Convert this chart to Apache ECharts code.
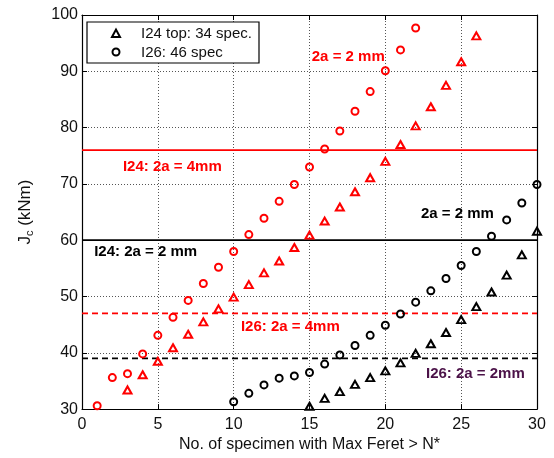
<!DOCTYPE html>
<html>
<head>
<meta charset="utf-8">
<script src="https://cdn.jsdelivr.net/npm/echarts@6/dist/echarts.min.js"></script>
<style>
  html, body { margin: 0; padding: 0; background: #fff; }
  #chart { width: 554px; height: 458px; }
</style>
</head>
<body>
<div id="chart"></div>
<script>
// Jc vs. number of specimens with Max Feret above N*
const redTriN  = [3, 4, 5, 6, 7, 8, 9, 10, 11, 12, 13, 14, 15, 16, 17, 18, 19, 20, 21, 22, 23, 24, 25, 26];
const redTriJ  = [33.4, 36.1, 38.5, 40.9, 43.3, 45.5, 47.8, 49.9, 52.1, 54.2, 56.3, 58.7, 60.9, 63.4, 65.9, 68.6, 71.1, 74.0, 77.0, 80.3, 83.7, 87.5, 91.7, 96.3];

const redCircN = [1, 2, 3, 4, 5, 6, 7, 8, 9, 10, 11, 12, 13, 14, 15, 16, 17, 18, 19, 20, 21, 22];
const redCircJ = [30.6, 35.6, 36.3, 39.8, 43.1, 46.3, 49.3, 52.3, 55.2, 58.0, 61.0, 63.9, 66.9, 69.9, 73.0, 76.2, 79.4, 82.9, 86.4, 90.1, 93.8, 97.7];

const blackTriN  = [15, 16, 17, 18, 19, 20, 21, 22, 23, 24, 25, 26, 27, 28, 29, 30];
const blackTriJ  = [30.5, 31.9, 33.1, 34.4, 35.6, 36.8, 38.2, 39.9, 41.6, 43.6, 45.9, 48.2, 50.8, 53.8, 57.4, 61.6];

const blackCircN = [10, 11, 12, 13, 14, 15, 16, 17, 18, 19, 20, 21, 22, 23, 24, 25, 26, 27, 28, 29, 30];
const blackCircJ = [31.3, 32.8, 34.3, 35.5, 35.9, 36.5, 38.0, 39.6, 41.3, 43.1, 44.9, 46.9, 49.0, 51.0, 53.2, 55.5, 58.0, 60.7, 63.6, 66.6, 69.9];

// reference levels (kNm)
const levelI24_4mm = 76;
const levelI24_2mm = 60;
const levelI26_4mm = 47;
const levelI26_2mm = 39;
const levelSpanN = [0, 30];

const legendNames = ['I24 top: 34 spec.', 'I26: 46 spec'];

// annotation texts with anchor [N, Jc] (left edge, vertical middle)
const notes = [
  { text: '2a = 2 mm',      at: [15.15, 92.6], color: '#ff0000' },
  { text: 'I24: 2a = 4mm',  at: [2.70, 73.0],  color: '#ff0000' },
  { text: 'I24: 2a = 2 mm', at: [0.80, 57.9],  color: '#000000' },
  { text: '2a = 2 mm',      at: [22.35, 64.7], color: '#000000' },
  { text: 'I26: 2a = 4mm',  at: [10.48, 44.6], color: '#ff0000' },
  { text: 'I26: 2a = 2mm',  at: [22.68, 36.2], color: '#4b1248' }
];

const FONT = "'Liberation Sans', Arial, Helvetica, sans-serif";

function pairs(xs, ys) { return xs.map((x, i) => [x, ys[i]]); }

function markerSeries(name, xs, ys, symbol, size, color) {
  return {
    name: name,
    type: 'scatter',
    xAxisIndex: 0, yAxisIndex: 0,
    data: pairs(xs, ys),
    symbol: symbol,
    symbolSize: size,
    itemStyle: { color: 'rgba(0,0,0,0)', borderColor: color, borderWidth: 2, opacity: 1 },
    emphasis: { disabled: true },
    z: 5
  };
}

function levelSeries(level, color, dashed) {
  return {
    type: 'line',
    xAxisIndex: 0, yAxisIndex: 0,
    data: levelSpanN.map(n => [n, level]),
    symbol: 'none',
    lineStyle: { color: color, width: 1.8, type: dashed ? [6, 4] : 'solid' },
    emphasis: { disabled: true },
    z: 3
  };
}

const chart = echarts.init(document.getElementById('chart'), null, { renderer: 'canvas' });

chart.setOption({
  animation: false,
  backgroundColor: '#ffffff',
  textStyle: { fontFamily: FONT },
  grid: { left: 82, right: 17, top: 15, bottom: 46, show: false },
  xAxis: [
    {
      type: 'value', position: 'bottom', min: 0, max: 30, interval: 5,
      name: 'No. of specimen with Max Feret > N*',
      nameLocation: 'middle', nameGap: 27,
      nameTextStyle: { fontFamily: FONT, fontSize: 16, color: '#111' },
      axisLine: { show: true, onZero: false, lineStyle: { color: '#000', width: 1.2 } },
      axisTick: { show: true, inside: true, length: 5, lineStyle: { color: '#000' } },
      axisLabel: { fontFamily: FONT, fontSize: 16, color: '#111', margin: 7 },
      splitLine: { show: true, lineStyle: { color: '#555', width: 1, type: [1, 2] } }
    },
    {
      type: 'value', position: 'top', min: 0, max: 30, interval: 5,
      axisLine: { show: true, onZero: false, lineStyle: { color: '#000', width: 1.2 } },
      axisTick: { show: true, inside: true, length: 5, lineStyle: { color: '#000' } },
      axisLabel: { show: false },
      splitLine: { show: false }
    }
  ],
  yAxis: [
    {
      type: 'value', position: 'left', min: 30, max: 100, interval: 10,
      name: 'J{s|c} (kNm)',
      nameLocation: 'middle', nameGap: 47, nameRotate: 90,
      nameTextStyle: {
        fontFamily: FONT, fontSize: 17, color: '#111',
        rich: {
          s: { fontFamily: FONT, fontSize: 11, color: '#111', verticalAlign: 'bottom', padding: [9, 0, 0, 0] }
        }
      },
      axisLine: { show: true, onZero: false, lineStyle: { color: '#000', width: 1.2 } },
      axisTick: { show: true, inside: true, length: 5, lineStyle: { color: '#000' } },
      axisLabel: { fontFamily: FONT, fontSize: 16, color: '#111', margin: 4 },
      splitLine: { show: true, lineStyle: { color: '#555', width: 1, type: [1, 2] } }
    },
    {
      type: 'value', position: 'right', min: 30, max: 100, interval: 10,
      axisLine: { show: true, onZero: false, lineStyle: { color: '#000', width: 1.2 } },
      axisTick: { show: true, inside: true, length: 5, lineStyle: { color: '#000' } },
      axisLabel: { show: false },
      splitLine: { show: false }
    }
  ],
  series: [
    levelSeries(levelI24_4mm, '#ff0000', false),
    levelSeries(levelI24_2mm, '#000000', false),
    levelSeries(levelI26_4mm, '#ff0000', true),
    levelSeries(levelI26_2mm, '#000000', true),
    markerSeries('I24 4mm', redTriN, redTriJ, 'triangle', [8, 7], '#ff0000'),
    markerSeries('I26 4mm', redCircN, redCircJ, 'circle', 7, '#ff0000'),
    markerSeries(legendNames[0], blackTriN, blackTriJ, 'triangle', [8, 7], '#000000'),
    markerSeries(legendNames[1], blackCircN, blackCircJ, 'circle', 7, '#000000')
  ]
});

// annotations and legend box
const graphics = notes.map(n => {
  const p = chart.convertToPixel({ gridIndex: 0 }, n.at);
  return {
    type: 'text', x: p[0], y: p[1], z: 10,
    style: {
      text: n.text, fill: n.color, font: 'bold 15px ' + FONT,
      textAlign: 'left', textVerticalAlign: 'middle', verticalAlign: 'middle'
    }
  };
});

const lgX = 87, lgY = 22, lgW = 172, lgH = 41;
graphics.push(
  { type: 'rect', shape: { x: lgX, y: lgY, width: lgW, height: lgH }, z: 20,
    style: { fill: '#fff', stroke: '#000', lineWidth: 1.2 } },
  { type: 'polygon', z: 21,
    shape: { points: [[lgX + 25, lgY + 15], [lgX + 29, lgY + 7.5], [lgX + 33, lgY + 15]] },
    style: { fill: 'none', stroke: '#000', lineWidth: 2 } },
  { type: 'circle', z: 21, shape: { cx: lgX + 29, cy: lgY + 30, r: 3.5 },
    style: { fill: 'none', stroke: '#000', lineWidth: 2 } },
  { type: 'text', x: lgX + 54, y: lgY + 12, z: 21,
    style: { text: legendNames[0], fill: '#111', font: '15px ' + FONT, textVerticalAlign: 'middle', verticalAlign: 'middle' } },
  { type: 'text', x: lgX + 54, y: lgY + 31, z: 21,
    style: { text: legendNames[1], fill: '#111', font: '15px ' + FONT, textVerticalAlign: 'middle', verticalAlign: 'middle' } }
);

chart.setOption({ graphic: graphics });
</script>
</body>
</html>
